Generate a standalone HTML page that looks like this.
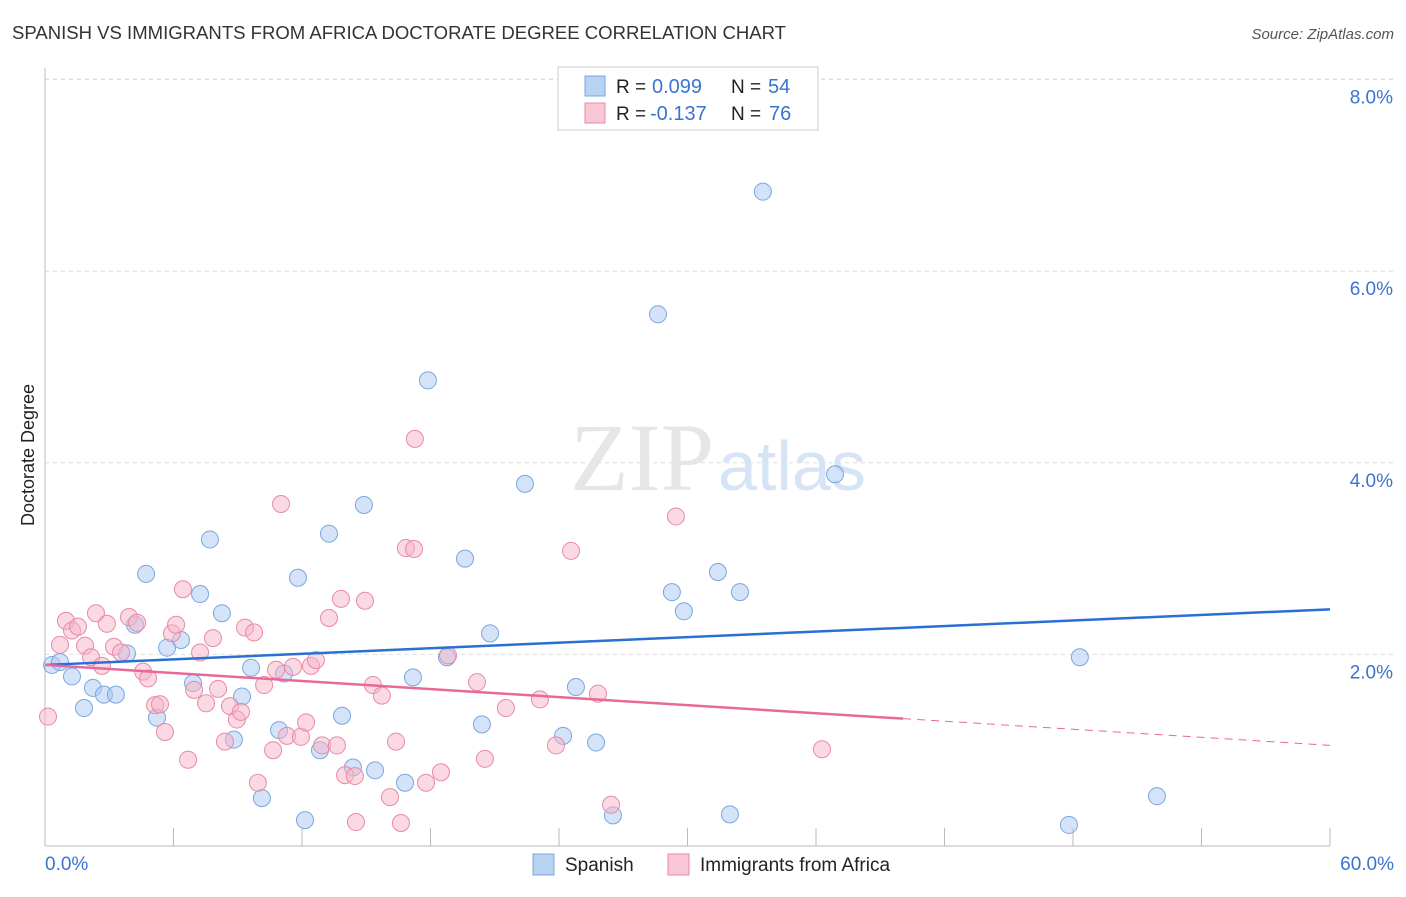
<!DOCTYPE html>
<html><head><meta charset="utf-8"><style>
body{margin:0;background:#fff;font-family:"Liberation Sans",sans-serif;}
</style></head><body>
<svg width="1406" height="892" xmlns="http://www.w3.org/2000/svg">
<text x="12" y="39" font-size="18" fill="#333" textLength="774" lengthAdjust="spacingAndGlyphs">SPANISH VS IMMIGRANTS FROM AFRICA DOCTORATE DEGREE CORRELATION CHART</text>
<text x="1394" y="39" font-size="15" fill="#555" text-anchor="end" font-style="italic">Source: ZipAtlas.com</text>
<g id="grid"></g>
<text x="714" y="490" font-size="96" fill="#e6e6e6" text-anchor="end" font-family="Liberation Serif,serif">ZIP</text>
<text x="718" y="490" font-size="70" fill="#d6e4f6">atlas</text>
<text x="34" y="455" font-size="18" fill="#222" text-anchor="middle" transform="rotate(-90 34 455)">Doctorate Degree</text>
<g id="marks"></g>
<g>
<rect x="558" y="67" width="260" height="63" fill="#fff" stroke="#ccc"/>
<rect x="585" y="76" width="20" height="20" fill="#b7d2f3" stroke="#7aa7e0"/>
<rect x="585" y="103" width="20" height="20" fill="#f9c6d6" stroke="#e88aa8"/>
<text x="616" y="93" font-size="19" fill="#222">R =</text>
<text x="652" y="93" font-size="20" fill="#3a74d0">0.099</text>
<text x="731" y="93" font-size="19" fill="#222">N =</text>
<text x="768" y="93" font-size="20" fill="#3a74d0">54</text>
<text x="616" y="120" font-size="19" fill="#222">R =</text>
<text x="650" y="120" font-size="20" fill="#3a74d0">-0.137</text>
<text x="731" y="120" font-size="19" fill="#222">N =</text>
<text x="769" y="120" font-size="20" fill="#3a74d0">76</text>
</g>
<g>
<rect x="533" y="854" width="21" height="21" fill="#b7d2f3" stroke="#7aa7e0"/>
<text x="565" y="871" font-size="19" fill="#222">Spanish</text>
<rect x="668" y="854" width="21" height="21" fill="#f9c6d6" stroke="#e88aa8"/>
<text x="700" y="871" font-size="19" fill="#222">Immigrants from Africa</text>
</g>
</svg>
<script>
const yTicks=[2,4,6,8];
const xTickLabels=["0.0%","60.0%"];
const blueX=[0.33,0.70,1.26,1.82,2.24,2.75,3.31,3.83,4.20,4.72,5.23,5.70,6.35,6.91,7.24,7.70,8.26,8.82,9.20,9.62,10.13,10.93,11.16,11.81,12.14,12.84,13.26,13.87,14.38,14.89,15.41,16.81,17.18,17.88,18.77,19.61,20.40,20.78,22.41,24.19,24.79,25.73,26.52,28.62,29.27,29.83,31.42,31.98,32.45,33.52,36.89,47.81,48.32,51.92];
const blueY=[1.89,1.92,1.77,1.44,1.65,1.58,1.58,2.01,2.31,2.84,1.34,2.07,2.15,1.70,2.63,3.20,2.43,1.11,1.56,1.86,0.50,1.21,1.80,2.80,0.27,1.00,3.26,1.36,0.82,3.56,0.79,0.66,1.76,4.86,1.97,3.00,1.27,2.22,3.78,1.15,1.66,1.08,0.32,5.55,2.65,2.45,2.86,0.33,2.65,6.83,3.88,0.22,1.97,0.52];
const pinkX=[0.14,0.70,0.98,1.26,1.54,1.87,2.15,2.38,2.66,2.89,3.22,3.55,3.92,4.30,4.58,4.81,5.14,5.37,5.60,5.93,6.12,6.44,6.68,6.96,7.24,7.52,7.84,8.08,8.40,8.64,8.96,9.15,9.34,9.76,9.94,10.23,10.65,10.79,11.02,11.30,11.58,11.95,12.19,12.42,12.65,12.94,13.26,13.63,13.82,14.01,14.47,14.52,14.94,15.31,15.73,16.11,16.39,16.62,16.85,17.23,17.27,17.79,18.49,18.82,20.17,20.54,21.52,23.11,23.86,24.56,25.82,26.43,29.46,36.28];
const pinkY=[1.35,2.10,2.35,2.25,2.29,2.09,1.97,2.43,1.88,2.32,2.08,2.02,2.39,2.33,1.82,1.75,1.47,1.48,1.19,2.22,2.31,2.68,0.90,1.63,2.02,1.49,2.17,1.64,1.09,1.46,1.32,1.40,2.28,2.23,0.66,1.68,1.00,1.84,3.57,1.15,1.87,1.14,1.29,1.88,1.94,1.05,2.38,1.05,2.58,0.74,0.73,0.25,2.56,1.68,1.57,0.51,1.09,0.24,3.11,3.10,4.25,0.66,0.77,1.99,1.71,0.91,1.44,1.53,1.05,3.08,1.59,0.43,3.44,1.01];
const blueTrend=[1.89,2.47];
const pinkTrend=[1.89,1.05];
const pinkSolidEnd=40.07;
const NS="http://www.w3.org/2000/svg";
const sx=v=>45+v/60*1285, sy=v=>846-v*95.8;
const grid=document.getElementById('grid'), marks=document.getElementById('marks');
function mk(tag,at,par){const e=document.createElementNS(NS,tag);for(const k in at)e.setAttribute(k,at[k]);par.appendChild(e);return e;}
mk('line',{x1:45,y1:79,x2:1394,y2:79,stroke:'#ddd','stroke-dasharray':'4 4'},grid);
yTicks.forEach(t=>{
 const l=mk('line',{x1:45,y1:sy(t),x2:1394,y2:sy(t),stroke:'#ddd','stroke-dasharray':'4 4'},grid);
 
 
 const tx=mk('text',{x:1393,y:sy(t)+24,'font-size':19,fill:'#3a74d0','text-anchor':'end'},grid);
 tx.textContent=t.toFixed(1)+'%';
 
 
});
mk('line',{x1:45,y1:68,x2:45,y2:846,stroke:'#bbb'},grid);
mk('line',{x1:45,y1:846,x2:1330,y2:846,stroke:'#bbb'},grid);
for(let i=0;i<=10;i++){mk('line',{x1:sx(i*6),y1:828,x2:sx(i*6),y2:846,stroke:'#bbb'},grid);}
[[0,'start',45],[60,'end',1394]].forEach((d,i)=>{
 const tx=mk('text',{x:d[2],y:870,'font-size':19,fill:'#3a74d0','text-anchor':d[1]},grid);
 tx.textContent=xTickLabels[i];
 
 
});
function pts(X,Y,fill,stroke,name){
 X.forEach((x,i)=>{
  const c=mk('circle',{cx:sx(x),cy:sy(Y[i]),r:8.5,fill:fill,'fill-opacity':0.5,stroke:stroke,'stroke-width':1},marks);
  
  
 });
}
pts(blueX,blueY,'#a9c8ef','#7aa7e0','spanish-point');
pts(pinkX,pinkY,'#f5b3c8','#e88aa8','africa-point');
const bl=mk('line',{x1:sx(0),y1:sy(blueTrend[0]),x2:sx(60),y2:sy(blueTrend[1]),stroke:'#2a6fd6','stroke-width':2.5},marks);


const py=x=>pinkTrend[0]+(pinkTrend[1]-pinkTrend[0])*x/60;
const pl=mk('line',{x1:sx(0),y1:sy(pinkTrend[0]),x2:sx(pinkSolidEnd),y2:sy(py(pinkSolidEnd)),stroke:'#e8689a','stroke-width':2.5},marks);


const pd=mk('line',{x1:sx(pinkSolidEnd),y1:sy(py(pinkSolidEnd)),x2:sx(60),y2:sy(pinkTrend[1]),stroke:'#e8689a','stroke-width':1,'stroke-dasharray':'8 6'},marks);


</script>
</body></html>
